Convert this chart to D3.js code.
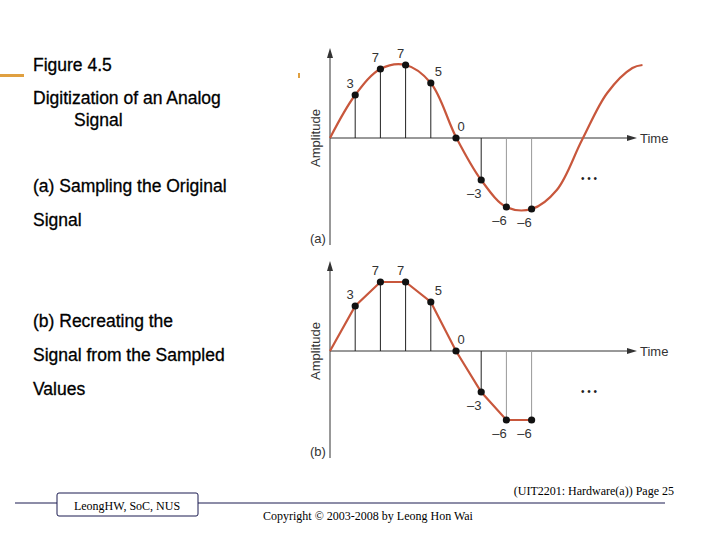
<!DOCTYPE html><html><head><meta charset="utf-8">
<script src="https://cdn.jsdelivr.net/npm/d3@7"></script>
<style>body{margin:0;background:#fff}svg{display:block}</style></head><body>
<script>
const sampleTimes=[1,2,3,4,5,6,7,8];
const sampleLabels=["3","7","7","5","0","–3","–6","–6"];
const sampleHeightsA=[4.3,6.9,7.3,5.5,0,-4.2,-6.9,-7.1];
const sampleHeightsB=[4.5,6.9,6.9,4.9,0,-4.1,-6.9,-6.9];
const curveTimes=[0,1,2,3,4,5,6,7,8,9,10,11,12,12.4];
const curveValues=[0,4.3,6.9,7.3,5.5,0.1,-4.2,-6.9,-7.1,-5.2,-0.2,4.5,7.0,7.3];
const titleLines=["Figure 4.5","Digitization of an Analog","Signal","(a) Sampling the Original","Signal","(b) Recreating the","Signal from the Sampled","Values"];

const svg=d3.select("body").append("svg").attr("width",720).attr("height",540);
const red="#c8573c";
const tl=[[33,71],[33,104],[74,126],[33,192],[33,226],[33,327],[33,361],[33,395]];
titleLines.forEach((t,i)=>svg.append("text").attr("x",tl[i][0]).attr("y",tl[i][1]).text(t)
 .attr("font-family","Liberation Sans, Arial").attr("font-size",17.5).attr("fill","#000")
 .attr("stroke","#000").attr("stroke-width",0.3));
svg.append("rect").attr("x",0).attr("y",74).attr("width",24).attr("height",3).attr("fill","#e0a040");
svg.append("rect").attr("x",298).attr("y",73).attr("width",2).attr("height",5).attr("fill","#e0a040");

function panel(oy,heights,smooth,tag){
 const x=d3.scaleLinear().domain([0,1]).range([330,355.2]);
 const y=d3.scaleLinear().domain([0,1]).range([oy,oy-10]);
 const g=svg.append("g");
 const ax="#333";
 const lf="Liberation Sans, Arial";
 g.append("line").attr("x1",330).attr("x2",330).attr("y1",oy+107).attr("y2",oy-82).attr("stroke",ax).attr("stroke-width",1);
 g.append("path").attr("d",`M330,${oy-90}L327,${oy-80}L333,${oy-80}Z`).attr("fill",ax);
 g.append("line").attr("x1",330).attr("x2",630).attr("y1",oy).attr("y2",oy).attr("stroke",ax);
 g.append("path").attr("d",`M637,${oy}L627,${oy-3}L627,${oy+3}Z`).attr("fill",ax);
 g.append("text").attr("x",640).attr("y",oy+5).text("Time").attr("font-family",lf).attr("font-size",13).attr("fill","#333");
 g.append("text").attr("transform",`translate(320,${oy})rotate(-90)`).attr("text-anchor","middle").text("Amplitude").attr("font-family",lf).attr("font-size",13).attr("fill","#333");
 g.append("text").attr("x",310).attr("y",oy+105).text(tag).attr("font-family",lf).attr("font-size",13).attr("fill","#333");
 g.append("text").attr("x",581).attr("y",oy+44).text("• • •").attr("font-family",lf).attr("font-size",10).attr("fill","#222");
 sampleTimes.forEach((t,i)=>{
  g.append("line").attr("x1",x(t)).attr("x2",x(t)).attr("y1",oy).attr("y2",y(heights[i]))
   .attr("stroke",i>=6?"#999":"#222").attr("stroke-width",1);
 });
 let pts;
 if(smooth){pts=curveTimes.map((t,i)=>[t,curveValues[i]]);}
 else{pts=[[0,0]].concat(sampleTimes.map((t,i)=>[t,heights[i]]));}
 g.append("path").attr("d",d3.line().x(d=>x(d[0])).y(d=>y(d[1])).curve(smooth?d3.curveCatmullRom:d3.curveLinear)(pts))
  .attr("fill","none").attr("stroke",red).attr("stroke-width",2.2);
 sampleTimes.forEach((t,i)=>{
  g.append("circle").attr("cx",x(t)).attr("cy",y(heights[i])).attr("r",3.6).attr("fill","#111");
  const up=heights[i]>=0;
  g.append("text").attr("x",x(t)+(i===4?5:(i<3?-5:(i===3?4:-7)))).attr("y",up?y(heights[i])-7:y(heights[i])+18)
   .attr("text-anchor",i===3?"start":"middle")
   .text(sampleLabels[i]).attr("font-family",lf).attr("font-size",13).attr("fill","#333");
 });
}
panel(138,sampleHeightsA,true,"(a)");
panel(351,sampleHeightsB,false,"(b)");

svg.append("line").attr("x1",15).attr("x2",665).attr("y1",503).attr("y2",503).attr("stroke","#1a1a50").attr("stroke-width",1);
svg.append("rect").attr("x",57).attr("y",493).attr("width",141).attr("height",23).attr("rx",2).attr("fill","#fff").attr("stroke","#1a1a50");
const serif="Liberation Serif, serif";
svg.append("text").attr("x",127).attr("y",510).attr("text-anchor","middle").text("LeongHW, SoC, NUS").attr("font-family",serif).attr("font-size",12);
svg.append("text").attr("x",368).attr("y",520).attr("text-anchor","middle").text("Copyright © 2003-2008 by Leong Hon Wai").attr("font-family",serif).attr("font-size",12);
svg.append("text").attr("x",674).attr("y",495).attr("text-anchor","end").text("(UIT2201: Hardware(a)) Page 25").attr("font-family",serif).attr("font-size",12);
</script></body></html>
